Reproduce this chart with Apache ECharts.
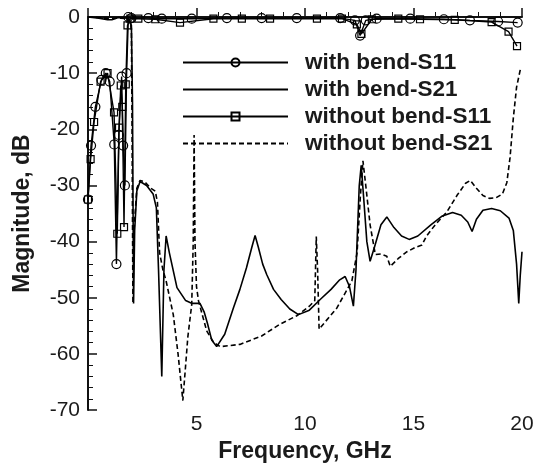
<!DOCTYPE html>
<html>
<head>
<meta charset="utf-8">
<script src="https://cdn.jsdelivr.net/npm/echarts@6/dist/echarts.min.js"></script>
<style>
html,body{margin:0;padding:0;background:#fff;}
#chart{width:541px;height:468px;}
</style>
</head>
<body>
<div id="chart"></div>
<script>
// Series names
var seriesNames = ['with bend-S11', 'with bend-S21', 'without bend-S11', 'without bend-S21'];

// Axis ticks
var xTicks = [0, 5, 10, 15, 20];
var yTicks = [-70, -60, -50, -40, -30, -20, -10, 0];

// with bend - S11 [GHz, dB]
var withBendS11 = [
  [0,-32.5],[0.14,-22.9],[0.34,-16],[0.62,-11.2],[0.82,-10],[1.0,-11.5],[1.21,-22.7],[1.31,-44],
  [1.42,-21],[1.55,-10.6],[1.62,-22.9],[1.7,-30],[1.78,-10],[1.86,0],[2.0,-0.2],[2.78,-0.2],
  [3.4,-0.3],[4.78,-0.3],[6.4,-0.2],[8.0,-0.2],[9.62,-0.2],[11.62,-0.2],[12.3,-0.6],[12.54,-3.3],
  [12.8,-0.6],[13.3,-0.3],[14.85,-0.3],[16.4,-0.4],[17.6,-0.6],[18.9,-0.8],[19.8,-1.0]
];

// without bend - S11 [GHz, dB]
var withoutBendS11 = [
  [0,-32.5],[0.12,-25.3],[0.28,-18.7],[0.58,-11.5],[0.9,-10],[1.2,-17],[1.35,-38.6],[1.43,-19.7],
  [1.51,-12.2],[1.58,-16],[1.66,-37.4],[1.74,-12],[1.82,-1.5],[1.95,-0.3],[2.32,-0.3],[3.1,-0.4],
  [4.24,-1.0],[5.78,-0.3],[7.09,-0.3],[8.39,-0.3],[10.55,-0.3],[11.7,-0.3],[12.39,-1.3],[12.6,-3.0],
  [13.08,-0.4],[14.3,-0.3],[15.3,-0.4],[16.9,-0.5],[18.6,-0.9],[19.38,-2.6],[19.77,-5.2]
];

// with bend - S21 [GHz, dB]
var withBendS21 = [
  [0,0],[0.5,-0.2],[0.9,-0.5],[1.1,-0.5],[1.4,-0.1],[1.8,-0.2],[2.0,-1.5],[2.05,-15],[2.1,-51],
  [2.15,-38],[2.25,-31],[2.4,-29.3],[2.7,-30],[3.0,-31.5],[3.15,-34],[3.25,-45],[3.4,-64],[3.5,-45],
  [3.6,-39],[3.75,-42],[4.1,-48.2],[4.5,-50.5],[4.8,-51],[5.16,-51],[5.35,-52.5],[5.5,-54.5],
  [5.7,-57.5],[5.93,-58.7],[6.3,-56.5],[6.7,-51.8],[7.0,-48.5],[7.3,-44.7],[7.55,-41],[7.7,-38.9],
  [7.85,-41],[8.05,-44],[8.24,-45.9],[8.55,-48.5],[8.9,-50.3],[9.3,-52],[9.7,-53],[10.2,-52.2],[10.7,-50.3],[11.2,-48.5],
  [11.6,-46.8],[11.85,-46.2],[12.05,-48],[12.23,-51.5],[12.35,-45],[12.5,-30],[12.59,-26.4],
  [12.7,-32],[12.85,-40],[13.0,-43.5],[13.2,-41],[13.5,-37],[13.77,-35.6],[14.1,-37.5],[14.45,-39],
  [14.8,-39.6],[15.2,-39],[15.8,-37],[16.3,-35.5],[16.8,-34.8],[17.2,-35.3],[17.5,-36.5],[17.7,-38.2],
  [17.9,-36],[18.2,-34.4],[18.6,-34.1],[19.0,-34.5],[19.4,-35.8],[19.6,-38],[19.75,-44],[19.85,-51],
  [19.92,-46],[20,-41.8]
];

// without bend - S21 [GHz, dB]
var withoutBendS21 = [
  [0,0],[0.5,-0.1],[1.0,-0.3],[1.5,-0.2],[1.9,-0.3],[2.0,-2],[2.03,-20],[2.07,-51],[2.12,-38],
  [2.25,-30.5],[2.4,-29.1],[2.6,-29.3],[2.9,-30.5],[3.1,-31],[3.2,-33],[3.3,-42],[3.45,-45],[3.6,-47],
  [3.93,-53],[4.15,-60],[4.37,-68.3],[4.5,-62],[4.6,-57],[4.78,-51.2],[4.85,-40],[4.89,-21],[4.93,-40],
  [5.0,-48],[5.09,-50.5],[5.3,-53.5],[5.47,-55.9],[5.8,-58],[6.09,-58.7],[7.0,-58.3],[8.0,-56.8],
  [8.85,-54.7],[9.62,-53.2],[10.2,-51.5],[10.45,-50.5],[10.52,-39.1],[10.58,-45],[10.65,-55.6],
  [10.7,-55.6],[11.1,-53.5],[11.47,-51.8],[12.16,-47],[12.4,-42],[12.55,-32],[12.67,-25.6],[12.8,-30],
  [13.0,-37],[13.24,-42.3],[13.5,-42.2],[13.77,-42.6],[13.93,-44.4],[14.3,-43],[14.7,-41.8],[15.1,-41],
  [15.39,-40.6],[15.6,-39],[16.0,-37],[16.54,-34.7],[17.0,-31.8],[17.4,-29.6],[17.62,-29.1],[17.9,-30.5],
  [18.2,-31.8],[18.5,-32.3],[18.8,-32.2],[19.1,-31.5],[19.3,-29.5],[19.45,-25],[19.6,-18],[19.75,-12.5],
  [19.92,-9.4],[20,-9]
];

var FONT = '"Liberation Sans", Arial, Helvetica, sans-serif';
var chart = echarts.init(document.getElementById('chart'), null, {renderer: 'canvas'});

var hollow = {color: 'rgba(255,255,255,0)', borderColor: '#000', borderWidth: 1.2};

chart.setOption({
  animation: false,
  backgroundColor: '#fff',
  textStyle: {fontFamily: FONT},
  grid: {left: 88, right: 19, top: 17, bottom: 55, containLabel: false},
  legend: {
    orient: 'vertical',
    left: 182,
    top: 51,
    padding: 0,
    itemWidth: 105,
    itemHeight: 10,
    itemGap: 4,
    data: [
      {name: seriesNames[0]},
      {name: seriesNames[1], itemStyle: {opacity: 0}},
      {name: seriesNames[2]},
      {name: seriesNames[3], itemStyle: {opacity: 0}}
    ],
    textStyle: {fontSize: 22.5, fontWeight: 'bold', color: '#1a1a1a', fontFamily: FONT, padding: [0, 0, 0, 12]}
  },
  xAxis: {
    type: 'value',
    min: xTicks[0],
    max: xTicks[xTicks.length - 1],
    interval: xTicks[1] - xTicks[0],
    name: 'Frequency, GHz',
    nameLocation: 'middle',
    nameGap: 27,
    nameTextStyle: {fontSize: 23, fontWeight: 'bold', color: '#1a1a1a', fontFamily: FONT},
    axisLine: {lineStyle: {color: '#111', width: 2}},
    axisTick: {inside: true, length: 9, lineStyle: {color: '#111', width: 1.5}},
    minorTick: {show: true, splitNumber: 5, length: 5, lineStyle: {color: '#111', width: 1}},
    splitLine: {show: false},
    axisLabel: {fontSize: 21, color: '#1a1a1a', margin: 4, showMinLabel: false, fontFamily: FONT}
  },
  yAxis: {
    type: 'value',
    min: yTicks[0],
    max: yTicks[yTicks.length - 1],
    interval: yTicks[1] - yTicks[0],
    name: 'Magnitude, dB',
    nameLocation: 'middle',
    nameRotate: 90,
    nameGap: 54,
    nameTextStyle: {fontSize: 23, fontWeight: 'bold', color: '#1a1a1a', fontFamily: FONT},
    axisLine: {show: true, lineStyle: {color: '#111', width: 2}},
    axisTick: {show: true, inside: true, length: 9, lineStyle: {color: '#111', width: 1.5}},
    minorTick: {show: true, splitNumber: 5, length: 5, lineStyle: {color: '#111', width: 1}},
    splitLine: {show: false},
    axisLabel: {fontSize: 21, color: '#1a1a1a', margin: 8, fontFamily: FONT}
  },
  series: [
    {
      name: seriesNames[1], type: 'line', data: withBendS21, symbol: 'none', clip: false,
      lineStyle: {color: '#000', width: 1.6}, itemStyle: {color: '#000'}, emphasis: {disabled: true}
    },
    {
      name: seriesNames[3], type: 'line', data: withoutBendS21, symbol: 'none', clip: false,
      lineStyle: {color: '#000', width: 1.6, type: [5, 3]}, itemStyle: {color: '#000'}, emphasis: {disabled: true}
    },
    {
      name: seriesNames[0], type: 'line', data: withBendS11, symbol: 'circle', symbolSize: 9,
      showAllSymbol: true, clip: false,
      lineStyle: {color: '#000', width: 1.4}, itemStyle: hollow, emphasis: {disabled: true}
    },
    {
      name: seriesNames[2], type: 'line', data: withoutBendS11, symbol: 'rect', symbolSize: 7,
      showAllSymbol: true, clip: false,
      lineStyle: {color: '#000', width: 1.4}, itemStyle: hollow, emphasis: {disabled: true}
    }
  ]
});
</script>
</body>
</html>
